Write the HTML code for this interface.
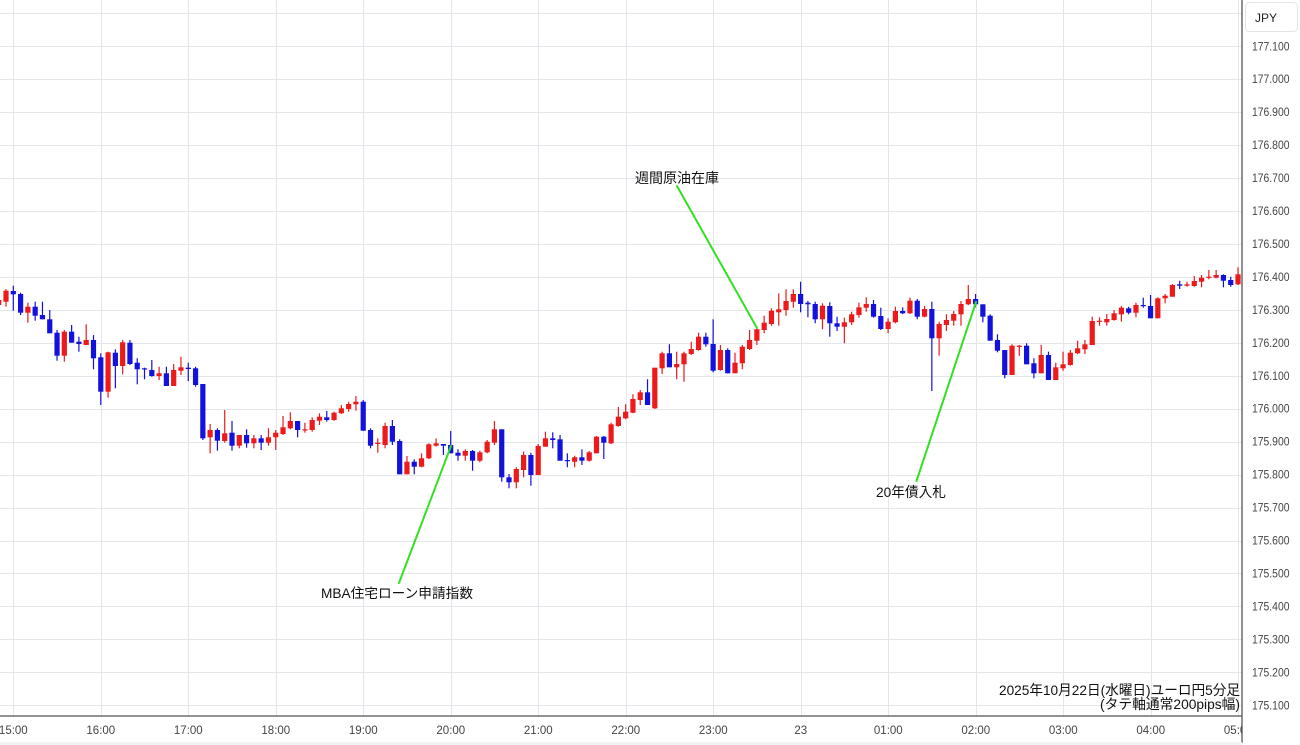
<!DOCTYPE html>
<html><head><meta charset="utf-8"><style>
html,body{margin:0;padding:0;background:#fff;}
svg{display:block;}
text{font-family:"Liberation Sans","Noto Sans CJK JP",sans-serif;}
</style></head><body>
<svg id="c" width="1300" height="745" viewBox="0 0 1300 745" xmlns="http://www.w3.org/2000/svg">
<defs><clipPath id="plotclip"><rect x="0" y="0" width="1242" height="745"/></clipPath></defs>
<rect x="0" y="0" width="1300" height="745" fill="#fff"/>
<g id="grid" stroke="#e3e7ec" stroke-width="1"></g>
<g id="candles" clip-path="url(#plotclip)"></g>
<g stroke="#33e022" stroke-width="2" stroke-linecap="round">
<line x1="677" y1="186" x2="757" y2="328"/>
<line x1="399" y1="583" x2="451" y2="446"/>
<line x1="916.5" y1="481" x2="976" y2="302"/>
</g>
<g fill="#111" font-size="14">
<text x="635" y="183" textLength="84" lengthAdjust="spacingAndGlyphs">週間原油在庫</text>
<text x="321" y="598" textLength="152" lengthAdjust="spacingAndGlyphs" font-size="13.5">MBA住宅ローン申請指数</text>
<text x="876" y="497" textLength="70" lengthAdjust="spacingAndGlyphs">20年債入札</text>
<text x="999" y="695" textLength="241" lengthAdjust="spacingAndGlyphs">2025年10月22日(水曜日)ユーロ円5分足</text>
<text x="1100" y="709" textLength="140" lengthAdjust="spacingAndGlyphs">(タテ軸通常200pips幅)</text>
</g>
<rect x="1242" y="0" width="58" height="745" fill="#fff"/>
<line x1="1242" y1="0" x2="1242" y2="743" stroke="#555" stroke-width="1.3"/>
<line x1="0" y1="716" x2="1242" y2="716" stroke="#555" stroke-width="1.3"/>
<rect x="0" y="742" width="1242" height="3" fill="#f2f2f2"/>
<rect x="1245.5" y="2.5" width="52" height="29" rx="4" fill="#fff" stroke="#e4e4e4"/>
<text x="1255" y="22" font-size="12" fill="#222">JPY</text>
<g id="plabels" font-size="11.5" fill="#444"></g>
<g id="tlabels" font-size="11.5" fill="#444" clip-path="url(#plotclip)"></g>
</svg>
<script>
var NS="http://www.w3.org/2000/svg";
function el(n,a,p){var e=document.createElementNS(NS,n);for(var k in a)e.setAttribute(k,a[k]);p.appendChild(e);return e;}
var grid=document.getElementById('grid');
for(var j=0;j<=21;j++){var y=Math.round(13.3+j*32.95)+0.5;el('line',{x1:0,y1:y,x2:1242,y2:y},grid);}
var times=["15:00","16:00","17:00","18:00","19:00","20:00","21:00","22:00","23:00","23","01:00","02:00","03:00","04:00","05:00"];
var tl=document.getElementById('tlabels');
for(var k=0;k<15;k++){var x=13.3+k*87.5;var xr=Math.round(x)+0.5;el('line',{x1:xr,y1:0,x2:xr,y2:716},grid);
 var t=el('text',{x:x.toFixed(1),y:734,'text-anchor':'middle'},tl);t.textContent=times[k];}
var pl=document.getElementById('plabels');
for(var j=1;j<=21;j++){var y=13.3+j*32.95;var t=el('text',{x:1252,y:(y+4).toFixed(1),textLength:37.5,lengthAdjust:'spacingAndGlyphs'},pl);t.textContent=(177.2-j*0.1).toFixed(3);}
var D=[
[-2,'r',300,305,298,307],[-1,'r',290.7,301.7,289,306.7],
[0,'b',291,294.3,285.7,310.7],[1,'b',294,312.7,292.7,315],[2,'r',306.7,312.7,302.7,322.7],[3,'b',306.7,315.7,301.7,320.7],[4,'b',315,319.3,301.7,319.3],[5,'b',319.3,333.3,310,333.3],[6,'b',332.7,355.7,330,360.7],[7,'r',331.7,355.7,330,361.7],[8,'b',331.7,342.7,325,342.7],[9,'b',341.7,344,336.7,351.7],[10,'r',340,345,324.3,345],[11,'b',340,358.3,335,369.3],[12,'b',357.3,391.7,353.3,405],[13,'r',352.3,391.7,351.7,397.7],[14,'b',352.7,366,349.3,388.3],[15,'r',342.3,366,340,374.3],[16,'b',342.7,364,340,365],[17,'b',362.7,369.3,358.3,384.3],[18,'b',368.3,369.3,367.7,379.3],[19,'b',370,376,360,376.7],[20,'r',373.3,376,366.7,380],[21,'b',373.3,386,366.7,386],[22,'r',370,386,364,386],[23,'r',367.3,370.7,356.7,375],[24,'b',367.7,369,362.7,381],[25,'b',368.3,385,366.7,386.7],[26,'b',384,438.3,384,440],[27,'r',430,437.3,424,453.3],[28,'b',430,440.7,428.3,450.7],[29,'r',433.3,441,410,442.7],[30,'b',432.7,445.7,421,450.7],[31,'r',435,445.7,435,448.3],[32,'b',435,443.3,429.3,447.7],[33,'r',438.3,443.3,435,448.3],[34,'b',438.3,442.7,435,450],[35,'r',437.3,442.7,428.3,445.7],[36,'r',432.7,437.3,430,450],[37,'r',427.3,434,416,435],[38,'r',421,428.3,412.3,429.3],[39,'b',421,430,421,437.3],[40,'r',429.3,430,422.7,432.7],[41,'r',420,430,417.3,431.7],[42,'r',416.7,420.7,413.3,425],[43,'b',417.3,420,411,421.7],[44,'r',412.7,420,411.7,420.7],[45,'r',408.3,413.3,405,414],[46,'r',404,409,401.7,411.7],[47,'r',401.7,404.3,396,410.7],[48,'b',401.7,430.7,400,430.7],[49,'b',430,445.7,428.3,448.3],[50,'r',442.7,444,438.3,452.7],[51,'r',426,445,422.7,448.3],[52,'b',426,441.7,420,445],[53,'b',441,474.3,439.3,474.3],[54,'r',461.7,474.3,456,474.3],[55,'b',461.7,466.7,459.3,474.3],[56,'r',458.3,466.7,453.3,467.3],[57,'r',444.3,458.3,443.3,459],[58,'r',443.3,445.7,438.3,446.7],[59,'b',444,445.7,444,455],[60,'b',445,453.3,431,453.3],[61,'b',452.7,455.7,449.3,460.7],[62,'r',451,455.7,449.3,460.7],[63,'b',451,460.7,450,470.7],[64,'r',452.3,460.7,450.7,462.3],[65,'r',441.7,452.3,440,453.3],[66,'r',429.3,442.7,421,445],[67,'b',429.3,477.3,429.3,481.7],[68,'b',477.3,482.3,474,488.3],[69,'r',469,482.3,467.3,488.3],[70,'r',455,470,451.7,477.3],[71,'b',455,475,452.7,485.7],[72,'r',446,475,444,475],[73,'r',438.3,446.7,431.7,446.7],[74,'b',438.3,440,432.3,448.3],[75,'b',439.3,460.7,435,460.7],[76,'b',460,461,453.3,467.3],[77,'r',457.3,461.7,455.7,467.3],[78,'b',457.3,460.7,449.3,465],[79,'r',452.3,460.7,451,461.7],[80,'r',436.7,453.3,436,453.3],[81,'b',436.7,442.7,436,459],[82,'r',424.3,443.3,422.7,444],[83,'r',416.7,426,407,426.7],[84,'r',411.7,418.3,404.3,419.3],[85,'r',399,412.7,394.3,413.3],[86,'r',392.3,400,390,405],[87,'b',392.3,405,379.3,405],[88,'r',367.7,408.3,367.7,409],[89,'r',353.3,368.3,351.7,374],[90,'b',353.3,367.3,344.3,367.3],[91,'r',364,367.3,351.7,379.3],[92,'r',353.3,364.3,351.7,381.7],[93,'r',349,354,341.7,355],[94,'r',336.7,350,332.7,350.7],[95,'b',336.7,344.3,332.7,346.7],[96,'b',344,370.7,319.3,372.3],[97,'r',350,370,345,370.7],[98,'b',350,373.3,348.3,373.3],[99,'r',362.7,373.3,352.7,373.3],[100,'r',346.7,363.3,345,369.3],[101,'r',340,349,330,350],[102,'r',329.3,340.7,327.7,345],[103,'r',322.7,330,315.7,333.3],[104,'r',310.7,324,308.3,325.7],[105,'r',309.3,312.3,293.3,325.7],[106,'r',301,310,289.3,315.7],[107,'r',294,301.7,289.3,307.7],[108,'b',294,304,281.7,312.3],[109,'b',302.7,304.3,301,317.3],[110,'b',304,319.3,301.7,323.3],[111,'r',305.7,319.3,303.3,329.3],[112,'b',306,323.3,302.3,336.7],[113,'b',323.3,326.7,316.7,331],[114,'r',322.3,326.7,317.7,343.3],[115,'r',314.3,322.3,311.7,325],[116,'r',307.3,315,302.7,317.7],[117,'r',304,307.7,297.3,311.7],[118,'b',304,316.7,300,317.7],[119,'b',316,329,307.7,330],[120,'r',321.7,329,318.3,333.3],[121,'r',311,322.3,306.7,323.3],[122,'b',311,313.3,307.3,314],[123,'r',300.7,313.3,297.7,314],[124,'b',300.7,316.7,299,319.3],[125,'r',309,316.7,306,317.3],[126,'b',309,338.3,301.7,391],[127,'r',324,338.3,321.7,355.7],[128,'r',320,325,314.3,331],[129,'r',314,320.7,311,325.7],[130,'r',304,314.3,301,325.7],[131,'r',299,304.3,285,305],[132,'b',299,304.3,294,307.3],[133,'b',304.3,316.7,304.3,322.3],[134,'b',315.7,340.7,314.3,340.7],[135,'b',340,350.7,334.3,352.3],[136,'b',350,375,350,378.3],[137,'r',345.7,375,344.3,375],[138,'r',345.7,346.7,345,355.7],[139,'b',345.7,364.3,343.3,364.3],[140,'b',363.3,373.3,358.3,378.3],[141,'r',355,373.3,345,373.3],[142,'b',355,380,351.7,380],[143,'r',367.3,380,362.7,380],[144,'r',364.3,368.3,351.7,370.7],[145,'r',352.7,365,350,365.7],[146,'r',348.3,353.3,340.7,354],[147,'r',344.3,349.3,340,354],[148,'r',321,345,316.7,345],[149,'r',320.7,321.7,317.3,325.7],[150,'r',319,322.3,314,325.7],[151,'r',313.3,320,310,320.7],[152,'r',307.7,314.3,306,321.7],[153,'b',308.3,312.7,306.7,314.3],[154,'r',305,312.7,302.7,317.3],[155,'b',305,306,297.7,307.7],[156,'b',306,318.3,295,318.3],[157,'r',298.3,318.3,297.3,318.3],[158,'r',295.7,298.3,294,303.3],[159,'r',285,296.7,284,296.7],[160,'b',284.3,285.7,280.7,289],[161,'r',284.3,285.7,281.7,286.7],[162,'r',281,286,276,286.7],[163,'r',277.7,281.7,275,287.3],[164,'r',276.7,277.7,270,279.3],[165,'r',275,277.7,270,278.3],[166,'b',275,280.7,274.3,287.3],[167,'b',280,285,276.7,286.7],[168,'r',274.3,284.3,267.3,285]
];
var cg=document.getElementById('candles');
D.forEach(function(d){var x=13.3+d[0]*7.29;var col=d[1]=='r'?'#ec1a1a':'#1212dc';
 el('line',{x1:x.toFixed(2),y1:d[4],x2:x.toFixed(2),y2:d[5],stroke:col,'stroke-width':1.2},cg);
 var h=Math.max(d[3]-d[2],1.2);
 el('rect',{x:(x-2.6).toFixed(2),y:d[2],width:5.2,height:h.toFixed(2),fill:col},cg);});
</script>
</body></html>
